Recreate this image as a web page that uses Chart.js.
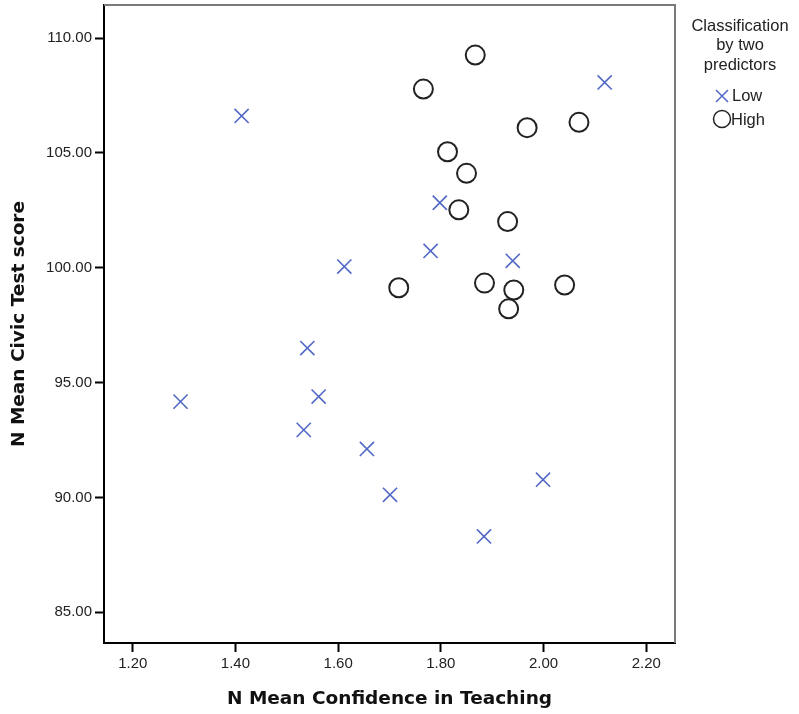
<!DOCTYPE html>
<html lang="en">
  <head>
    <meta charset="UTF-8" />
    <title>Civic test score vs confidence in teaching</title>
    <script src="https://cdn.jsdelivr.net/npm/chart.js@4.4.0/dist/chart.umd.min.js"></script>
    <style>
      html, body { margin: 0; padding: 0; background: #fff; }
      #wrap { width: 799px; height: 714px; }
    </style>
  </head>
  <body>
    <div id="wrap">
      <canvas id="chart" width="799" height="714"></canvas>
    </div>
    <script>
      // values
      const seriesNames = ["Low", "High"];
      const legendTitle = ["Classification", "by two", "predictors"];

      const lowX = [1.412, 2.119, 1.798, 1.780, 1.940, 1.612, 1.540, 1.293, 1.562, 1.533, 1.656, 1.701, 1.999, 1.884];
      const lowY = [106.61, 108.07, 102.83, 100.73, 100.30, 100.05, 96.50, 94.17, 94.39, 92.94, 92.11, 90.11, 90.77, 88.30];

      const highX = [1.867, 1.766, 1.968, 2.069, 1.813, 1.850, 1.835, 1.930, 1.718, 1.885, 1.942, 1.932, 2.041];
      const highY = [109.26, 107.78, 106.10, 106.33, 105.05, 104.11, 102.52, 102.01, 99.13, 99.33, 99.03, 98.21, 99.25];

      const xTicks = [1.2, 1.4, 1.6, 1.8, 2.0, 2.2];
      const yTicks = [85, 90, 95, 100, 105, 110];

      const lowColor = "#5268c6";
      const highColor = "#222222";

      function pts(xs, ys) {
        return xs.map((x, i) => ({ x: x, y: ys[i] }));
      }

      // top and right frame lines (gray), left/bottom come from the axes
      const framePlugin = {
        id: "frame",
        beforeDatasetsDraw(chart) {
          const { ctx, chartArea: a } = chart;
          ctx.save();
          ctx.strokeStyle = "#7a7a7a";
          ctx.lineWidth = 2;
          ctx.beginPath();
          ctx.moveTo(a.left, a.top);
          ctx.lineTo(a.right, a.top);
          ctx.lineTo(a.right, a.bottom);
          ctx.stroke();
          ctx.restore();
        }
      };

      // SPSS style legend on the right
      const legendPlugin = {
        id: "sideLegend",
        afterDraw(chart) {
          const { ctx, chartArea: a } = chart;
          const cx = a.right + 65;
          ctx.save();
          ctx.fillStyle = "#222";
          ctx.font = "16.5px 'Liberation Sans', Arial, sans-serif";
          ctx.textAlign = "center";
          ctx.textBaseline = "middle";
          legendTitle.forEach((t, i) => ctx.fillText(t, cx, 26 + i * 19.5));

          const gx = a.right + 47;
          // Low marker
          ctx.strokeStyle = lowColor;
          ctx.lineWidth = 1.5;
          ctx.beginPath();
          ctx.moveTo(gx - 6, 96 - 6);
          ctx.lineTo(gx + 6, 96 + 6);
          ctx.moveTo(gx + 6, 96 - 6);
          ctx.lineTo(gx - 6, 96 + 6);
          ctx.stroke();
          // High marker
          ctx.strokeStyle = highColor;
          ctx.beginPath();
          ctx.arc(gx, 119, 8.5, 0, Math.PI * 2);
          ctx.stroke();

          ctx.textAlign = "left";
          ctx.fillText(seriesNames[0], gx + 10, 96);
          ctx.fillText(seriesNames[1], gx + 9, 120);
          ctx.restore();
        }
      };

      const tickFont = { family: "'Liberation Sans', Arial, sans-serif", size: 15 };
      const titleFont = { family: "'DejaVu Sans', sans-serif", size: 18.5, weight: "bold" };

      new Chart(document.getElementById("chart"), {
        type: "scatter",
        data: {
          datasets: [
            {
              label: seriesNames[0],
              data: pts(lowX, lowY),
              pointStyle: "crossRot",
              pointRadius: 10,
              pointHoverRadius: 10,
              borderColor: lowColor,
              backgroundColor: lowColor,
              pointBorderWidth: 1.6
            },
            {
              label: seriesNames[1],
              data: pts(highX, highY),
              pointStyle: "circle",
              pointRadius: 9.5,
              pointHoverRadius: 9.5,
              borderColor: highColor,
              backgroundColor: "rgba(0,0,0,0)",
              pointBorderWidth: 2
            }
          ]
        },
        options: {
          responsive: false,
          animation: false,
          layout: { autoPadding: false, padding: { left: 0, top: 5, right: 124, bottom: 0 } },
          plugins: {
            legend: { display: false },
            tooltip: { enabled: false }
          },
          scales: {
            x: {
              type: "linear",
              min: 1.144,
              max: 2.256,
              afterBuildTicks: (s) => { s.ticks = xTicks.map((v) => ({ value: v })); },
              afterFit: (s) => { s.height = 71; s.paddingLeft = 0; s.paddingRight = 0; },
              ticks: {
                color: "#222",
                font: tickFont,
                padding: 3,
                callback: (v) => Number(v).toFixed(2)
              },
              grid: { drawOnChartArea: false, tickLength: 9, color: "#000", tickWidth: 2 },
              border: { color: "#000", width: 2 },
              title: {
                display: true,
                text: "N Mean Confidence in Teaching",
                color: "#111",
                font: titleFont,
                padding: { top: 0, bottom: 4 }
              }
            },
            y: {
              type: "linear",
              min: 83.66,
              max: 111.44,
              afterBuildTicks: (s) => { s.ticks = yTicks.map((v) => ({ value: v })); },
              afterFit: (s) => { s.width = 104; s.paddingTop = 0; s.paddingBottom = 0; },
              ticks: {
                color: "#222",
                font: tickFont,
                padding: 3,
                callback: (v) => Number(v).toFixed(2)
              },
              grid: { drawOnChartArea: false, tickLength: 9, color: "#000", tickWidth: 2 },
              border: { color: "#000", width: 2 },
              title: {
                display: true,
                text: "N Mean Civic Test score",
                color: "#111",
                font: titleFont,
                padding: { top: 8, bottom: 0 }
              }
            }
          }
        },
        plugins: [framePlugin, legendPlugin]
      });
    </script>
  </body>
</html>
